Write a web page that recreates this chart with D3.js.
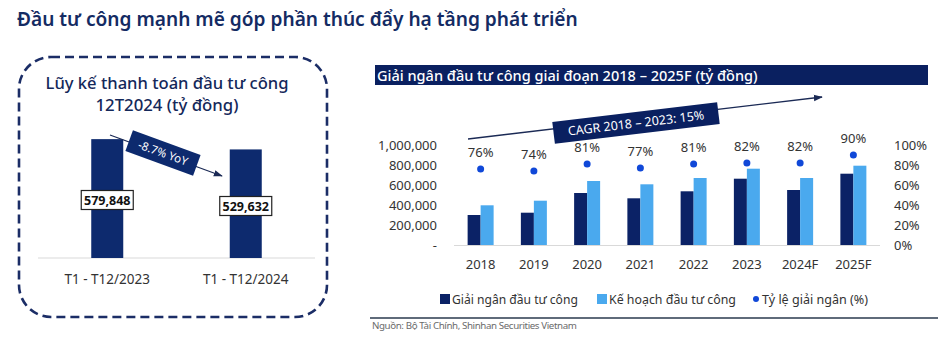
<!DOCTYPE html>
<html><head><meta charset="utf-8">
<script src="https://cdn.jsdelivr.net/npm/d3@7/dist/d3.min.js"></script>
<style>
html,body{margin:0;padding:0;background:#fff;}
svg{display:block;font-family:"Noto Sans","Open Sans",sans-serif;}
</style></head>
<body>
<svg id="c" width="938" height="341"></svg>
<script>
// ---- Data ----
const pageTitle = "Đầu tư công mạnh mẽ góp phần thúc đẩy hạ tầng phát triển";
const leftTitle = ["Lũy kế thanh toán đầu tư công", "12T2024 (tỷ đồng)"];
const leftCategories = ["T1 - T12/2023", "T1 - T12/2024"];
const leftValues = [579848, 529632];
const leftValueLabels = ["579,848", "529,632"];
const yoyLabel = "-8.7% YoY";

const chartTitle = "Giải ngân đầu tư công giai đoạn 2018 – 2025F (tỷ đồng)";
const years = ["2018", "2019", "2020", "2021", "2022", "2023", "2024F", "2025F"];
const disbursed = [300000, 323000, 520000, 467000, 537000, 663000, 550000, 713000];
const planned = [397000, 443000, 640000, 607000, 670000, 763000, 670000, 793000];
const ratio = [76, 74, 81, 77, 81, 82, 82, 90];
const leftTicks = [0, 200000, 400000, 600000, 800000, 1000000];
const rightTicks = [0, 20, 40, 60, 80, 100];
const seriesNames = ["Giải ngân đầu tư công", "Kế hoạch đầu tư công", "Tỷ lệ giải ngân (%)"];
const cagrLabel = "CAGR 2018 – 2023: 15%";
const sourceText = "Nguồn: Bộ Tài Chính, Shinhan Securities Vietnam";

// ---- Styles ----
const NAVY = "#0b2266", LIGHT = "#4aa9ee", DOT = "#1048d8", TXT = "#333333";

const svg = d3.select("#c");
const defs = svg.append("defs");
defs.append("marker").attr("id","ah").attr("viewBox","0 0 10 10").attr("refX",9).attr("refY",5)
  .attr("markerWidth",7).attr("markerHeight",7).attr("orient","auto")
  .append("path").attr("d","M0,1.5 L10,5 L0,8.5 z").attr("fill","#1b2a55");

function fitText(sel, w){
  const n = sel.node(); const l = n.getComputedTextLength();
  if (l > 0) { const fs = parseFloat(sel.attr("font-size")); sel.attr("font-size", fs * w / l); }
}

// Page title
const pt = svg.append("text").attr("x",17).attr("y",26).attr("font-size",19).attr("font-weight",600)
  .attr("fill","#142b63").text(pageTitle);
fitText(pt, 561);

// ---- Left panel ----
svg.append("rect").attr("x",19).attr("y",57).attr("width",308).attr("height",260).attr("rx",32)
  .attr("fill","none").attr("stroke","#1b2d66").attr("stroke-width",2.6).attr("stroke-dasharray","9,5");
const ltW = [243, 143];
leftTitle.forEach((t,i)=>{
  const tt = svg.append("text").attr("x",167).attr("y",89+i*22).attr("text-anchor","middle")
    .attr("font-size",18).attr("font-weight",500).attr("fill","#14285a").text(t);
  fitText(tt, ltW[i]);
});
const lx = d3.scalePoint().domain(leftCategories).range([38,315]).padding(0.5);
const ly = d3.scaleLinear().domain([0,600000]).range([258,135]);
const lbw = 32;
svg.append("line").attr("x1",38).attr("x2",315).attr("y1",258).attr("y2",258).attr("stroke","#d9d9d9");
svg.append("g").selectAll("rect").data(leftValues).join("rect")
  .attr("x",(d,i)=>lx(leftCategories[i])-lbw/2).attr("width",lbw)
  .attr("y",d=>ly(d)).attr("height",d=>ly(0)-ly(d)).attr("fill","#0d2a6e");
svg.append("g").selectAll("text").data(leftCategories).join("text")
  .attr("x",d=>lx(d)).attr("y",284).attr("text-anchor","middle").attr("font-size",13.5).attr("fill",TXT).text(d=>d);
// value boxes
const boxY = [200, 206];
leftValueLabels.forEach((t,i)=>{
  const cx = lx(leftCategories[i]);
  const g = svg.append("g");
  g.append("rect").attr("x",cx-26).attr("y",boxY[i]-9.5).attr("width",52).attr("height",19)
    .attr("fill","#fff").attr("stroke","#222").attr("stroke-width",1.2);
  g.append("text").attr("x",cx).attr("y",boxY[i]+4.5).attr("text-anchor","middle").attr("font-size",12.5)
    .attr("font-weight",700).attr("fill","#111").text(t);
});
// YoY arrow
svg.append("line").attr("x1",110).attr("y1",135).attr("x2",222).attr("y2",176)
  .attr("stroke","#1b2a55").attr("stroke-width",1.3).attr("marker-end","url(#ah)");
const yg = svg.append("g").attr("transform","translate(163,153) rotate(20)");
yg.append("rect").attr("x",-36).attr("y",-11).attr("width",72).attr("height",22).attr("fill","#0d2a6e");
yg.append("text").attr("x",0).attr("y",4).attr("text-anchor","middle").attr("font-size",11.5)
  .attr("fill","#fff").text(yoyLabel);

// ---- Right chart ----
svg.append("rect").attr("x",375).attr("y",65).attr("width",553).attr("height",20).attr("fill","#0a2060");
const ct = svg.append("text").attr("x",377).attr("y",80.5).attr("font-size",15).attr("font-weight",500)
  .attr("fill","#fff").text(chartTitle);
fitText(ct, 381);

const x = d3.scaleBand().domain(years).range([454,880]);
const y = d3.scaleLinear().domain([0,1000000]).range([245,145]);
const yr = d3.scaleLinear().domain([0,100]).range([245,145]);
const bw = 13;

// left axis
const fmt = d3.format(",");
svg.append("g").selectAll("text").data(leftTicks).join("text")
  .attr("x",437).attr("y",d=>y(d)+4.5).attr("text-anchor","end").attr("font-size",13).attr("fill",TXT)
  .text(d=> d===0 ? "-" : fmt(d));
// right axis
svg.append("g").selectAll("text").data(rightTicks).join("text")
  .attr("x",894).attr("y",d=>yr(d)+4.5).attr("text-anchor","start").attr("font-size",13).attr("fill",TXT)
  .text(d=> d+"%");
// axis line
svg.append("line").attr("x1",454).attr("x2",880).attr("y1",245.5).attr("y2",245.5).attr("stroke","#d9d9d9");

// bars
svg.append("g").selectAll("rect").data(disbursed).join("rect")
  .attr("x",(d,i)=>x(years[i])+x.bandwidth()/2-bw).attr("width",bw)
  .attr("y",d=>y(d)).attr("height",d=>y(0)-y(d)).attr("fill",NAVY);
svg.append("g").selectAll("rect").data(planned).join("rect")
  .attr("x",(d,i)=>x(years[i])+x.bandwidth()/2).attr("width",bw)
  .attr("y",d=>y(d)).attr("height",d=>y(0)-y(d)).attr("fill",LIGHT);
// dots
svg.append("g").selectAll("circle").data(ratio).join("circle")
  .attr("cx",(d,i)=>x(years[i])+x.bandwidth()/2).attr("cy",d=>yr(d)).attr("r",3.5).attr("fill",DOT);
svg.append("g").selectAll("text").data(ratio).join("text")
  .attr("x",(d,i)=>x(years[i])+x.bandwidth()/2).attr("y",d=>yr(d)-12).attr("text-anchor","middle")
  .attr("font-size",13).attr("fill",TXT).text(d=>d+"%");
// category labels
svg.append("g").selectAll("text").data(years).join("text")
  .attr("x",d=>x(d)+x.bandwidth()/2).attr("y",269).attr("text-anchor","middle")
  .attr("font-size",13).attr("fill",TXT).text(d=>d);

// CAGR arrow
svg.append("line").attr("x1",468).attr("y1",139).attr("x2",822).attr("y2",97)
  .attr("stroke","#1b2a55").attr("stroke-width",1.3).attr("marker-end","url(#ah)");
const cg = svg.append("g").attr("transform","translate(636,123) rotate(-6.8)");
cg.append("rect").attr("x",-83).attr("y",-11).attr("width",166).attr("height",22).attr("fill","#0a2060");
cg.append("text").attr("x",0).attr("y",4.5).attr("text-anchor","middle").attr("font-size",12.5)
  .attr("fill","#fff").text(cagrLabel);

// legend
const lg = svg.append("g");
const legX = [440, 597, 752];
const legW = [126, 127, 106];
lg.append("rect").attr("x",legX[0]).attr("y",294).attr("width",10).attr("height",10).attr("fill",NAVY);
lg.append("rect").attr("x",legX[1]).attr("y",294).attr("width",10).attr("height",10).attr("fill",LIGHT);
lg.append("circle").attr("cx",legX[2]+4).attr("cy",299).attr("r",3).attr("fill",DOT);
seriesNames.forEach((n,i)=>{
  const t = lg.append("text").attr("x",legX[i]+(i<2?12:10)).attr("y",304).attr("font-size",14).attr("fill",TXT).text(n);
  fitText(t, legW[i]);
});

// separator & source
svg.append("line").attr("x1",370).attr("x2",938).attr("y1",318).attr("y2",318).attr("stroke","#5f6b7a").attr("stroke-width",2);
const st = svg.append("text").attr("x",372).attr("y",329).attr("font-size",10).attr("fill","#6b6b6b")
  .attr("letter-spacing",-0.4).text(sourceText);
fitText(st, 205);
</script>
</body></html>
